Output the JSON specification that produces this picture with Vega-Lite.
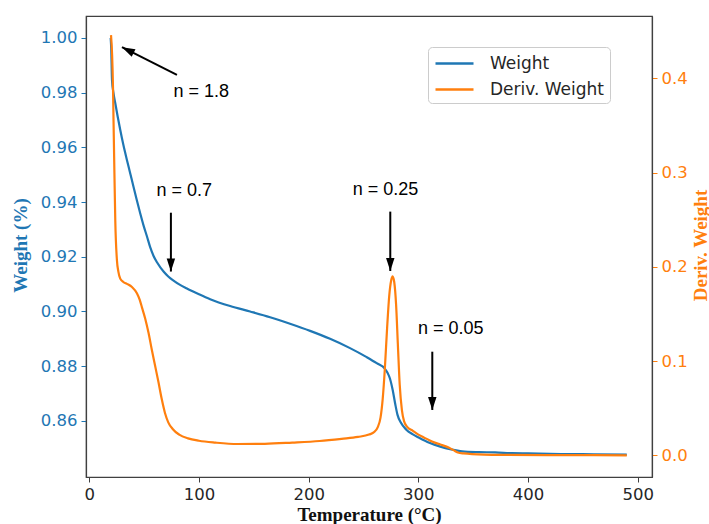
{
  "$schema": "https://vega.github.io/schema/vega-lite/v6.json",
  "width": 566,
  "height": 461,
  "autosize": {"type": "none"},
  "padding": {"left": 86, "top": 16, "right": 57, "bottom": 47},
  "background": "white",
  "config": {
    "view": {"stroke": "#404040", "strokeWidth": 1.2},
    "font": "DejaVu Sans",
    "axis": {"labelFont": "DejaVu Sans", "labelFontSize": 16.5, "tickSize": 5, "labelPadding": 4, "domainColor": "#404040", "domainWidth": 1.2, "grid": false, "labelFlush": false, "labelOverlap": false, "titleFont": "Liberation Serif", "titleFontWeight": "bold", "titleFontSize": 19}
  },
  "datasets": {
    "weight": [
      {"T": 19.5, "W": 1.0}, {"T": 20, "W": 0.996}, {"T": 20.7, "W": 0.9846}, {"T": 22, "W": 0.9800},
      {"T": 23.7, "W": 0.9761}, {"T": 26, "W": 0.971}, {"T": 28.2, "W": 0.9664}, {"T": 31, "W": 0.961},
      {"T": 34.3, "W": 0.9554}, {"T": 37, "W": 0.951}, {"T": 40.3, "W": 0.9456}, {"T": 43, "W": 0.9412},
      {"T": 46.4, "W": 0.9359}, {"T": 49.5, "W": 0.9314}, {"T": 52.6, "W": 0.9274}, {"T": 55.5, "W": 0.9235},
      {"T": 58.6, "W": 0.9203}, {"T": 62, "W": 0.9178}, {"T": 67.7, "W": 0.9146}, {"T": 72, "W": 0.9128},
      {"T": 76.8, "W": 0.9113}, {"T": 82, "W": 0.9099}, {"T": 89, "W": 0.9084}, {"T": 100, "W": 0.9063},
      {"T": 110.2, "W": 0.9045}, {"T": 128.4, "W": 0.902}, {"T": 146.6, "W": 0.9}, {"T": 164.8, "W": 0.8979},
      {"T": 183, "W": 0.8955}, {"T": 201.3, "W": 0.8929}, {"T": 219.5, "W": 0.89}, {"T": 237.7, "W": 0.8866},
      {"T": 252.9, "W": 0.8833}, {"T": 262, "W": 0.8811}, {"T": 269.6, "W": 0.879}, {"T": 272, "W": 0.8775},
      {"T": 274, "W": 0.8756}, {"T": 276.6, "W": 0.8713}, {"T": 279, "W": 0.866}, {"T": 281, "W": 0.8622},
      {"T": 284, "W": 0.8594}, {"T": 289, "W": 0.8568}, {"T": 295, "W": 0.8551}, {"T": 300, "W": 0.854},
      {"T": 310, "W": 0.852}, {"T": 320, "W": 0.8506}, {"T": 330, "W": 0.8496}, {"T": 340, "W": 0.8489},
      {"T": 355, "W": 0.8486}, {"T": 370, "W": 0.8485}, {"T": 385, "W": 0.8482}, {"T": 400, "W": 0.8481},
      {"T": 430, "W": 0.8479}, {"T": 460, "W": 0.8478}, {"T": 490, "W": 0.8477}
    ],
    "deriv": [
      {"T": 19.8, "D": 0.446}, {"T": 20.8, "D": 0.425}, {"T": 21.6, "D": 0.391}, {"T": 22.1, "D": 0.355},
      {"T": 22.9, "D": 0.3}, {"T": 23.7, "D": 0.249}, {"T": 25.2, "D": 0.207}, {"T": 26.5, "D": 0.195},
      {"T": 28.2, "D": 0.1876}, {"T": 31, "D": 0.184}, {"T": 34.3, "D": 0.182}, {"T": 38.9, "D": 0.1787},
      {"T": 43.4, "D": 0.172}, {"T": 46, "D": 0.165}, {"T": 48, "D": 0.157}, {"T": 51, "D": 0.145},
      {"T": 54, "D": 0.13}, {"T": 57, "D": 0.112}, {"T": 60, "D": 0.095}, {"T": 63, "D": 0.078},
      {"T": 66, "D": 0.06}, {"T": 69, "D": 0.045}, {"T": 72, "D": 0.035}, {"T": 76, "D": 0.028},
      {"T": 82, "D": 0.022}, {"T": 90, "D": 0.018}, {"T": 100, "D": 0.0155}, {"T": 115, "D": 0.0135},
      {"T": 135, "D": 0.012}, {"T": 160, "D": 0.0122}, {"T": 185, "D": 0.0135}, {"T": 210, "D": 0.0152},
      {"T": 230, "D": 0.0175}, {"T": 245, "D": 0.0195}, {"T": 255, "D": 0.022}, {"T": 260, "D": 0.025},
      {"T": 263, "D": 0.03}, {"T": 265.5, "D": 0.04}, {"T": 267.5, "D": 0.06}, {"T": 269.5, "D": 0.093},
      {"T": 271.5, "D": 0.135}, {"T": 273.5, "D": 0.17}, {"T": 275.3, "D": 0.186}, {"T": 276.5, "D": 0.19},
      {"T": 278, "D": 0.184}, {"T": 279.7, "D": 0.16}, {"T": 281.3, "D": 0.118}, {"T": 283, "D": 0.075},
      {"T": 285, "D": 0.048}, {"T": 287, "D": 0.036}, {"T": 290, "D": 0.03}, {"T": 295, "D": 0.026},
      {"T": 300, "D": 0.022}, {"T": 305, "D": 0.019}, {"T": 310, "D": 0.016}, {"T": 315, "D": 0.0135},
      {"T": 320, "D": 0.0115}, {"T": 325, "D": 0.0095}, {"T": 328, "D": 0.008}, {"T": 332, "D": 0.0055},
      {"T": 336, "D": 0.003}, {"T": 341, "D": 0.002}, {"T": 360, "D": 0.0008}, {"T": 380, "D": 0.0005},
      {"T": 420, "D": 0.0003}, {"T": 460, "D": 0.0002}, {"T": 490, "D": 0.0}
    ],
    "labels": [
      {"T": 102, "W": 0.9804, "text": "n = 1.8"},
      {"T": 86.5, "W": 0.9441, "text": "n = 0.7"},
      {"T": 270, "W": 0.9444, "text": "n = 0.25"},
      {"T": 329.5, "W": 0.8936, "text": "n = 0.05"}
    ],
    "arrows": [
      {"T1": 79.9, "W1": 0.9865, "T2": 29.8, "W2": 0.9966, "kind": "diag"},
      {"T1": 74.4, "W1": 0.9361, "T2": 74.4, "W2": 0.9146, "kind": "down"},
      {"T1": 274.4, "W1": 0.9365, "T2": 274.4, "W2": 0.9148, "kind": "down"},
      {"T1": 312.7, "W1": 0.8853, "T2": 312.7, "W2": 0.864, "kind": "down"}
    ]
  },
  "layer": [
    {
      "data": {"name": "weight"},
      "mark": {"type": "line", "strokeWidth": 2.2, "interpolate": "monotone"},
      "encoding": {
        "x": {"field": "T", "type": "quantitative", "scale": {"domain": [-3, 513], "nice": false, "zero": false},
          "axis": {"values": [0, 100, 200, 300, 400, 500], "labelColor": "#262626", "tickColor": "#404040", "title": "Temperature (°C)", "titleColor": "#111111", "titleX": 283, "titleY": 37, "titleBaseline": "middle"}},
        "y": {"field": "W", "type": "quantitative", "scale": {"domain": [0.8395, 1.008], "nice": false, "zero": false},
          "axis": {"orient": "left", "values": [0.86, 0.88, 0.9, 0.92, 0.94, 0.96, 0.98, 1.0], "format": ".2f", "labelColor": "#1f77b4", "tickColor": "#1f77b4", "title": "Weight (%)", "titleColor": "#1f77b4", "titleAngle": 270, "titleX": -65.5, "titleY": 229, "titleBaseline": "middle", "titleAlign": "center"}},
        "color": {"datum": "Weight", "type": "nominal",
          "scale": {"domain": ["Weight", "Deriv. Weight"], "range": ["#1f77b4", "#ff7f0e"]},
          "legend": {"orient": "none", "legendX": 342, "legendY": 31, "title": null, "fillColor": "white", "strokeColor": "#cccccc", "cornerRadius": 4, "padding": 5, "rowPadding": 6, "symbolType": "M-0.9,0L2.9,0", "symbolSize": 400, "symbolStrokeWidth": 2.5, "labelOffset": 34, "labelFontSize": 17, "labelFont": "DejaVu Sans", "labelColor": "#262626"}}
      }
    },
    {
      "data": {"name": "deriv"},
      "mark": {"type": "line", "strokeWidth": 2.2, "interpolate": "monotone"},
      "encoding": {
        "x": {"field": "T", "type": "quantitative", "title": "Temperature (°C)"},
        "y": {"field": "D", "type": "quantitative", "scale": {"domain": [-0.023, 0.4663], "nice": false, "zero": false},
          "axis": {"orient": "right", "values": [0, 0.1, 0.2, 0.3, 0.4], "format": ".1f", "labelColor": "#ff7f0e", "tickColor": "#ff7f0e", "title": "Deriv. Weight", "titleColor": "#ff7f0e", "titleAngle": 270, "titleX": 48, "titleY": 229, "titleBaseline": "middle", "titleAlign": "center"}},
        "color": {"datum": "Deriv. Weight", "type": "nominal"}
      }
    },
    {
      "data": {"name": "arrows"},
      "mark": {"type": "rule", "strokeWidth": 2, "color": "black"},
      "encoding": {
        "x": {"field": "T1", "type": "quantitative", "title": "Temperature (°C)"},
        "y": {"field": "W1", "type": "quantitative", "scale": {"domain": [0.8395, 1.008], "nice": false, "zero": false}, "axis": null},
        "x2": {"field": "T2"},
        "y2": {"field": "W2"}
      }
    },
    {
      "data": {"name": "arrows"},
      "transform": [{"filter": "datum.kind === 'down'"}],
      "mark": {"type": "point", "shape": "M0,0L-0.65,2L0.65,2Z", "filled": true, "size": 169, "angle": 180, "color": "black", "opacity": 1},
      "encoding": {
        "x": {"field": "T2", "type": "quantitative", "title": "Temperature (°C)"},
        "y": {"field": "W2", "type": "quantitative", "scale": {"domain": [0.8395, 1.008], "nice": false, "zero": false}, "axis": null}
      }
    },
    {
      "data": {"name": "arrows"},
      "transform": [{"filter": "datum.kind === 'diag'"}],
      "mark": {"type": "point", "shape": "M0,0L-0.65,2L0.65,2Z", "filled": true, "size": 169, "angle": 296.7, "color": "black", "opacity": 1},
      "encoding": {
        "x": {"field": "T2", "type": "quantitative", "title": "Temperature (°C)"},
        "y": {"field": "W2", "type": "quantitative", "scale": {"domain": [0.8395, 1.008], "nice": false, "zero": false}, "axis": null}
      }
    },
    {
      "data": {"name": "labels"},
      "mark": {"type": "text", "font": "Liberation Sans", "fontSize": 18, "align": "center", "baseline": "middle", "color": "black"},
      "encoding": {
        "x": {"field": "T", "type": "quantitative", "title": "Temperature (°C)"},
        "y": {"field": "W", "type": "quantitative", "scale": {"domain": [0.8395, 1.008], "nice": false, "zero": false}, "axis": null},
        "text": {"field": "text"}
      }
    }
  ],
  "resolve": {"scale": {"y": "independent"}, "axis": {"y": "independent"}}
}
